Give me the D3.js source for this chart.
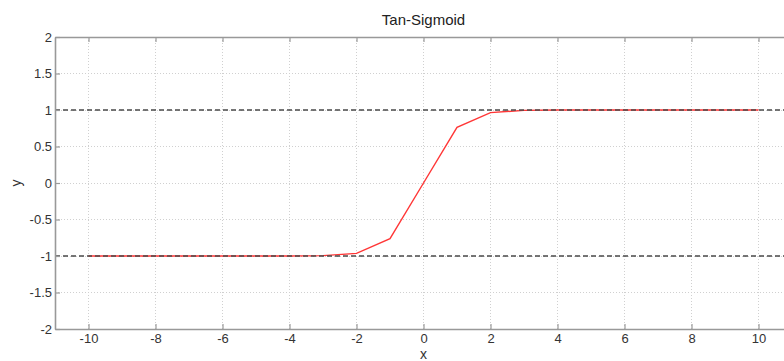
<!DOCTYPE html>
<html>
<head>
<meta charset="utf-8">
<script src="https://cdn.jsdelivr.net/npm/d3@7"></script>
<style>
  html, body { margin: 0; padding: 0; background: #fff; }
  svg { display: block; font-family: "Liberation Sans", Arial, sans-serif; }
</style>
</head>
<body>
<svg id="chart" width="784" height="361"></svg>
<script>
// Sample points of the hyperbolic tangent transfer function
const xValues = [-10, -9, -8, -7, -6, -5, -4, -3, -2, -1, 0, 1, 2, 3, 4, 5, 6, 7, 8, 9, 10];
const yValues = [-1.0000, -1.0000, -1.0000, -1.0000, -1.0000, -0.9999, -0.9993, -0.9951, -0.9640, -0.7616,
                 0, 0.7616, 0.9640, 0.9951, 0.9993, 0.9999, 1.0000, 1.0000, 1.0000, 1.0000, 1.0000];
// Asymptote levels
const asymptotes = [1, -1];
// Axis ticks
const xTicks = [-10, -8, -6, -4, -2, 0, 2, 4, 6, 8, 10];
const yTicks = [-2, -1.5, -1, -0.5, 0, 0.5, 1, 1.5, 2];
const xDomain = [-11, 11];
const yDomain = [-2, 2];

(function () {
const svg = d3.select("#chart");
const mLeft = 55, mTop = 37, mRight = 792, mBottom = 329;

const x = d3.scaleLinear().domain(xDomain).range([mLeft, mRight]);
const y = d3.scaleLinear().domain(yDomain).range([mBottom, mTop]);

const grid = svg.append("g");
// vertical grid
grid.selectAll("line.gx").data(xTicks).join("line")
  .attr("x1", d => x(d)).attr("x2", d => x(d))
  .attr("y1", mTop).attr("y2", mBottom)
  .attr("stroke", "#d0d0d0").attr("stroke-width", 1)
  .attr("stroke-dasharray", "1,2").attr("shape-rendering", "crispEdges");
// horizontal grid
grid.selectAll("line.gy").data(yTicks.filter(d => d !== -2 && d !== 2)).join("line")
  .attr("x1", mLeft).attr("x2", mRight)
  .attr("y1", d => y(d)).attr("y2", d => y(d))
  .attr("stroke", "#d0d0d0").attr("stroke-width", 1)
  .attr("stroke-dasharray", "1,2").attr("shape-rendering", "crispEdges");

// Tan-sigmoid curve
const line = d3.line().x((d, i) => x(xValues[i])).y(d => y(d));
svg.append("path")
  .datum(yValues)
  .attr("d", line)
  .attr("fill", "none")
  .attr("stroke", "#ff2020")
  .attr("stroke-width", 1.4)
  .attr("stroke-opacity", 0.9);

// Asymptote lines
svg.selectAll("line.asym").data(asymptotes).join("line")
  .attr("x1", mLeft).attr("x2", mRight)
  .attr("y1", d => y(d)).attr("y2", d => y(d))
  .attr("stroke", "#4a4a4a").attr("stroke-width", 1.3)
  .attr("stroke-dasharray", "5,3");

// Axes box and ticks
const axisColor = "#999";
const plain = d => String(d);
const xAxisB = d3.axisBottom(x).tickValues(xTicks).tickSize(-5).tickPadding(5).tickSizeOuter(0).tickFormat(plain);
const xAxisT = d3.axisTop(x).tickValues(xTicks).tickSize(-5).tickFormat("").tickSizeOuter(0);
const yAxisL = d3.axisLeft(y).tickValues(yTicks).tickSize(-5).tickPadding(3).tickSizeOuter(0).tickFormat(plain);

function style(g) {
  g.select(".domain").attr("stroke", axisColor).attr("stroke-width", 1.6);
  g.selectAll(".tick line").attr("stroke", axisColor).attr("stroke-width", 1.2);
  g.selectAll(".tick text").attr("fill", "#333").attr("font-size", 13)
    .attr("font-family", "'Liberation Sans', Arial, sans-serif");
}

svg.append("g").attr("transform", `translate(0,${mBottom})`).call(xAxisB).call(style);
svg.append("g").attr("transform", `translate(0,${mTop})`).call(xAxisT).call(style);
svg.append("g").attr("transform", `translate(${mLeft},0)`).call(yAxisL).call(style);

// Title and axis labels
svg.append("text")
  .attr("x", (mLeft + mRight) / 2).attr("y", 25)
  .attr("text-anchor", "middle").attr("font-size", 15).attr("fill", "#222")
  .text("Tan-Sigmoid");
svg.append("text")
  .attr("x", (mLeft + mRight) / 2).attr("y", 359)
  .attr("text-anchor", "middle").attr("font-size", 14).attr("fill", "#333")
  .text("x");
svg.append("text")
  .attr("transform", `translate(21,${(mTop + mBottom) / 2}) rotate(-90)`)
  .attr("text-anchor", "middle").attr("font-size", 14).attr("fill", "#333")
  .text("y");
})();
</script>
</body>
</html>
